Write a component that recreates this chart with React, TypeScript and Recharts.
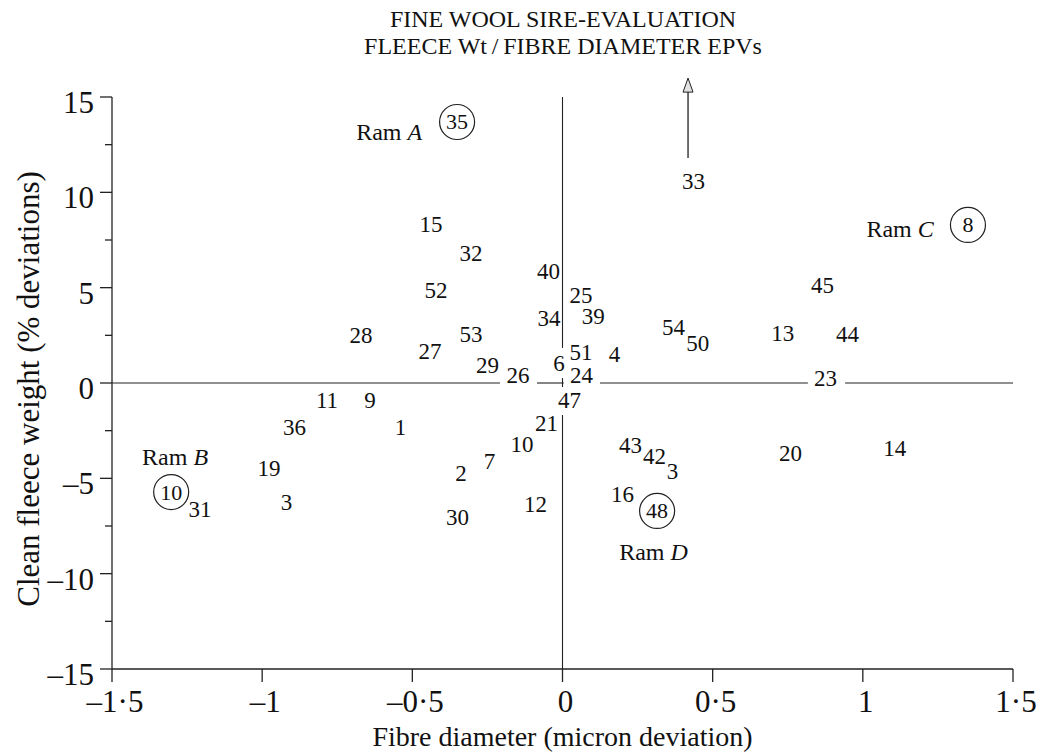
// Sire evaluation scatter — fleece weight vs fibre diameter EPVs, sires drawn as their ID numbers
import { ScatterChart, Scatter, XAxis, YAxis, ReferenceLine, Label } from "recharts";

const FONT = '"Liberation Serif", "Times New Roman", serif';
const INK = "#111";

// plain sire numbers
const plainIds = ["15", "32", "40", "52", "25", "34", "39", "28", "53", "27", "29", "26", "6", "51", "4", "24", "54", "50", "13", "45", "44", "23", "33", "11", "9", "36", "1", "21", "10", "7", "2", "19", "31", "3", "30", "12", "47", "43", "42", "3", "16", "20", "14"];
const plainFibre = [-0.438, -0.305, -0.047, -0.421, 0.062, -0.045, 0.102, -0.671, -0.305, -0.441, -0.25, -0.148, -0.012, 0.062, 0.173, 0.063, 0.37, 0.45, 0.733, 0.866, 0.949, 0.876, 0.436, -0.784, -0.641, -0.892, -0.539, -0.053, -0.135, -0.243, -0.338, -0.977, -1.207, -0.919, -0.35, -0.09, 0.023, 0.226, 0.306, 0.366, 0.2, 0.759, 1.106];
const plainFleece = [8.29, 6.79, 5.85, 4.85, 4.59, 3.38, 3.51, 2.49, 2.52, 1.65, 0.92, 0.39, 1.0, 1.6, 1.49, 0.39, 2.91, 2.05, 2.57, 5.09, 2.54, 0.26, 10.59, -0.94, -0.94, -2.36, -2.36, -2.15, -3.2, -4.12, -4.77, -4.48, -6.61, -6.29, -7.08, -6.35, -0.92, -3.3, -3.83, -4.64, -5.85, -3.72, -3.41];

// circled sires (Rams A–D) and where their names sit
const ramIds = ["35", "10", "8", "48"];
const ramFibre = [-0.351, -1.303, 1.35, 0.315];
const ramFleece = [13.69, -5.72, 8.29, -6.71];
const ramLetters = ["A", "B", "C", "D"];
const ramNameFibre = [-0.577, -1.29, 1.124, 0.303];
const ramNameFleece = [13.19, -3.88, 8.1, -8.84];

// sire 33 is off the top of the scale
const arrowFibre = 0.418;
const arrowFrom = 11.8;
const arrowTo = 15.99;

const xTicks = [-1.5, -1, -0.5, 0, 0.5, 1, 1.5];
const yTicks = [-15, -12.5, -10, -7.5, -5, -2.5, 0, 2.5, 5, 7.5, 10, 12.5, 15];

// zero lines are broken where numbers sit on them
const zeroRowGaps: [number, number][] = [[-1.5, -0.208], [-0.085, 0.004], [0.125, 0.817], [0.941, 1.5]];
const zeroColGaps: [number, number][] = [[1.84, 15], [-0.21, 0.26], [-15, -1.68]];

const plainData = plainIds.map((id, i) => ({ id, x: plainFibre[i], y: plainFleece[i] }));
const ramData = ramIds.map((id, i) => ({ id, x: ramFibre[i], y: ramFleece[i] }));
const ramNameData = ramLetters.map((l, i) => ({ id: l, x: ramNameFibre[i], y: ramNameFleece[i] }));

const fmt = (v: number) => {
  if (v === 0) return "0";
  const s = String(Math.abs(v)).replace(".", "\u00b7");
  return v < 0 ? "\u2013" + s : s;
};

const XTick = ({ x, y, payload }: any) => (
  <g>
    <line x1={x} y1={y} x2={x} y2={y + 13} stroke="#222" strokeWidth={1.3} />
    <text x={x + 3} y={y + 43} textAnchor="middle" fontSize={31} fontFamily={FONT} fill={INK}>
      {fmt(payload.value)}
    </text>
  </g>
);

const YTick = ({ x, y, payload }: any) => {
  const major = payload.value % 5 === 0;
  return (
    <g>
      <line x1={x - (major ? 12 : 7)} y1={y} x2={x} y2={y} stroke="#222" strokeWidth={1.3} />
      {major && (
        <text x={x - 18} y={y + 16} textAnchor="end" fontSize={31} fontFamily={FONT} fill={INK}>
          {fmt(payload.value)}
        </text>
      )}
    </g>
  );
};

const SireNumber = ({ cx, cy, payload }: any) => (
  <text x={cx} y={cy} textAnchor="middle" dominantBaseline="central" fontSize={23} fontFamily={FONT} fill={INK}>
    {payload.id}
  </text>
);

const CircledSire = ({ cx, cy, payload }: any) => (
  <g>
    <circle cx={cx} cy={cy} r={17.5} fill="none" stroke="#222" strokeWidth={1.2} />
    <text x={cx} y={cy} textAnchor="middle" dominantBaseline="central" fontSize={22} fontFamily={FONT} fill={INK}>
      {payload.id}
    </text>
  </g>
);

const RamName = ({ cx, cy, payload }: any) => (
  <text x={cx} y={cy} textAnchor="middle" dominantBaseline="central" fontSize={24} fontFamily={FONT} fill={INK}>
    Ram <tspan fontStyle="italic">{payload.id}</tspan>
  </text>
);

const Arrow = (p: any) => {
  const { x1, y1, x2, y2 } = p;
  return (
    <g>
      <line x1={x1} y1={y1} x2={x2} y2={y2 + 14} stroke="#222" strokeWidth={1.3} />
      <polygon points={`${x2},${y2} ${x2 - 5},${y2 + 14} ${x2 + 5},${y2 + 14}`} fill="#e2e2e2" stroke="#222" strokeWidth={1} />
    </g>
  );
};

export default function App() {
  return (
    <div style={{ position: "absolute", left: 0, top: 0, width: 1044, height: 755, background: "#fff" }}>
      <div
        style={{
          position: "absolute", left: 0, top: 6, width: 1126, textAlign: "center",
          fontFamily: FONT, fontSize: 24, lineHeight: "27px", color: INK,
        }}
      >
        <div>FINE WOOL SIRE-EVALUATION</div>
        <div>FLEECE Wt{"\u2009/\u2009"}FIBRE DIAMETER EPVs</div>
      </div>
      <ScatterChart width={1044} height={755} margin={{ top: 97, right: 31, bottom: 0, left: 0 }}>
        <XAxis
          type="number" dataKey="x" domain={[-1.5, 1.5]} ticks={xTicks} interval={0}
          tick={<XTick />} tickLine={false} tickSize={0} tickMargin={0} height={86}
          axisLine={{ stroke: "#222", strokeWidth: 1.3 }} allowDataOverflow
        >
          <Label
            content={({ viewBox }: any) => (
              <text x={viewBox.x + viewBox.width / 2} y={viewBox.y + 77} textAnchor="middle" fontSize={28} fontFamily={FONT} fill={INK}>
                Fibre diameter (micron deviation)
              </text>
            )}
          />
        </XAxis>
        <YAxis
          type="number" dataKey="y" domain={[-15, 15]} ticks={yTicks} interval={0}
          tick={<YTick />} tickLine={false} tickSize={0} tickMargin={0} width={112}
          axisLine={{ stroke: "#222", strokeWidth: 1.3 }} allowDataOverflow
        >
          <Label
            content={({ viewBox }: any) => {
              const cx = 28;
              const cy = viewBox.y + viewBox.height / 2 + 6;
              return (
                <text x={cx} y={cy} transform={`rotate(-90 ${cx} ${cy})`} textAnchor="middle" dominantBaseline="central" fontSize={31} fontFamily={FONT} fill={INK}>
                  Clean fleece weight (% deviations)
                </text>
              );
            }}
          />
        </YAxis>
        {zeroRowGaps.map(([a, b], i) => (
          <ReferenceLine key={`h${i}`} segment={[{ x: a, y: 0 }, { x: b, y: 0 }]} stroke="#222" strokeWidth={1.1} ifOverflow="visible" />
        ))}
        {zeroColGaps.map(([a, b], i) => (
          <ReferenceLine key={`v${i}`} segment={[{ x: 0, y: a }, { x: 0, y: b }]} stroke="#222" strokeWidth={1.1} ifOverflow="visible" />
        ))}
        <ReferenceLine
          segment={[{ x: arrowFibre, y: arrowFrom }, { x: arrowFibre, y: arrowTo }]}
          ifOverflow="visible" shape={<Arrow />}
        />
        <Scatter data={plainData} shape={<SireNumber />} isAnimationActive={false} />
        <Scatter data={ramData} shape={<CircledSire />} isAnimationActive={false} />
        <Scatter data={ramNameData} shape={<RamName />} isAnimationActive={false} />
      </ScatterChart>
    </div>
  );
}
